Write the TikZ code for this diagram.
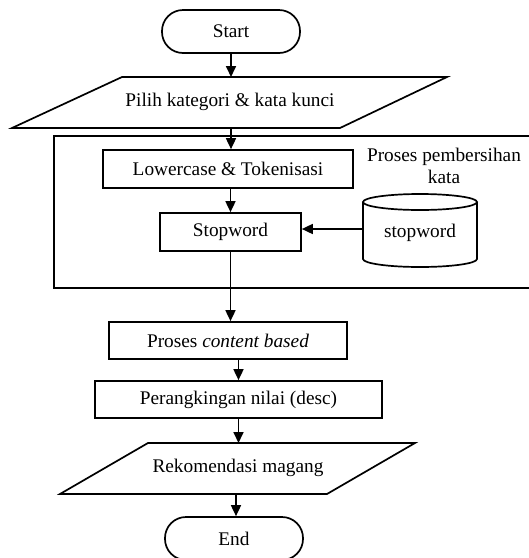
\documentclass[tikz,border=0pt]{standalone}
\usepackage{fontspec}
\setmainfont{Liberation Serif}
\usetikzlibrary{arrows.meta}
\begin{document}
\begin{tikzpicture}[x=1pt,y=-1pt, line width=1.7pt,
  font=\fontsize{19.3}{22}\selectfont,
  box/.style={draw, rectangle, inner sep=0pt},
  term/.style={draw, rectangle, rounded corners=21pt, inner sep=0pt, minimum width=138pt, minimum height=43pt},
  lbl/.style={inner sep=0pt, align=center},
  arr/.style={-{Triangle[length=11pt,width=10pt]}}]
\useasboundingbox (0,0) rectangle (529,558);

% Start
\node[term] (start) at (231,31.5) {Start};

% Pilih kategori (parallelogram)
\draw (122,77) -- (447,77) -- (340,128) -- (12,128) -- cycle;
\node[lbl] (pilih) at (230,102) {Pilih kategori \& kata kunci};
\coordinate (pilihT) at (231,77);
\coordinate (pilihB) at (231,128);

% Proses pembersihan kata container
\node[box, minimum width=477pt, minimum height=152pt] (clean) at (292.5,212) {};
\node[lbl] (cleanlbl) at (444,166) {Proses pembersihan\\kata};

\node[box, minimum width=250pt, minimum height=38pt] (low) at (228,169) {Lowercase \& Tokenisasi};
\node[box, minimum width=141pt, minimum height=38pt] (stop) at (230.5,232) {Stopword};

% database cylinder
\draw (363,202) -- (363,259) arc (180:360:57pt and 8pt) -- (477,202);
\draw (420,202) ellipse [x radius=57pt, y radius=8pt];
\node[lbl] (db) at (420,233) {stopword};
\coordinate (dbL) at (363,229);

\node[box, minimum width=238pt, minimum height=37pt] (cb) at (228,340.5) {Proses \textit{content based}};
\node[box, minimum width=287pt, minimum height=37pt] (rank) at (238.5,399.5) {Perangkingan nilai (desc)};

% Rekomendasi (parallelogram)
\draw (148,443) -- (415,443) -- (327,494) -- (60,494) -- cycle;
\node[lbl] (rek) at (238,468) {Rekomendasi magang};
\coordinate (rekT) at (238.5,443);
\coordinate (rekB) at (236,494);

\node[term] (end) at (234,538.5) {End};

% connectors
\draw[arr] (start.south) -- (pilihT);
\draw[arr] (pilihB) -- (pilihB |- low.north);
\draw[arr] (low.south -| stop.north) -- (stop.north);
\draw[arr] (dbL) -- (dbL -| stop.east);
\draw[arr] (stop.south) -- (stop.south |- cb.north);
\draw[arr] (cb.south -| rank.north) -- (rank.north);
\draw[arr] (rank.south) -- (rekT);
\draw[arr] (rekB) -- (rekB |- end.north);
\end{tikzpicture}
\end{document}
